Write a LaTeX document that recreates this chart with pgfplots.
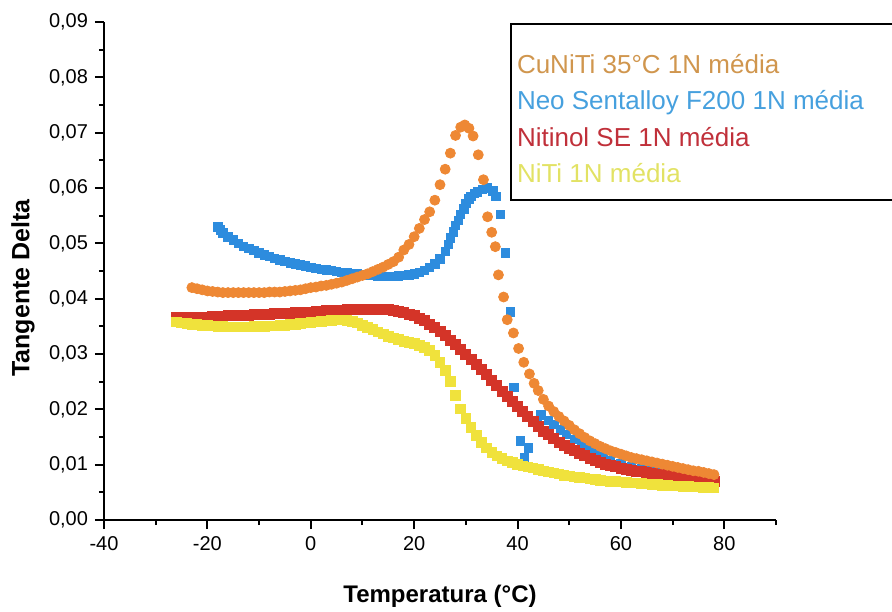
\documentclass[border=0pt]{standalone}
\usepackage{fontspec}
\setmainfont{Liberation Sans}
\usepackage{pgfplots}
\pgfplotsset{compat=1.18}
\definecolor{cOr}{RGB}{238,136,52}
\definecolor{cBl}{RGB}{45,140,222}
\definecolor{cRe}{RGB}{212,52,40}
\definecolor{cYe}{RGB}{240,226,60}
\definecolor{tOr}{RGB}{208,150,78}
\definecolor{tBl}{RGB}{70,160,222}
\definecolor{tRe}{RGB}{192,48,58}
\definecolor{tYe}{RGB}{226,226,100}
\begin{document}
\begin{tikzpicture}
\begin{axis}[
  at={(0,0)}, anchor=south west, scale only axis,
  width=336pt, height=249pt,
  xmin=-40, xmax=90, ymin=0, ymax=0.09,
  axis lines=left, axis line style={-, line width=1pt},
  xtick={-40,-20,0,20,40,60,80},
  minor xtick={-30,-10,10,30,50,70,90},
  ytick={0,0.01,0.02,0.03,0.04,0.05,0.06,0.07,0.08,0.09},
  minor ytick={0.005,0.015,0.025,0.035,0.045,0.055,0.065,0.075,0.085},
  tick align=outside, major tick length=4.5pt, minor tick length=2.5pt,
  every tick/.style={black, line width=1pt},
  scaled y ticks=false,
  yticklabel style={/pgf/number format/.cd, fixed, fixed zerofill, precision=2, use comma},
  /pgf/number format/assume math mode=true,
  tick label style={font=\fontsize{10}{11}\selectfont},
  xlabel={Temperatura (°C)}, ylabel={Tangente Delta},
  xlabel style={font=\bfseries\fontsize{12}{13}\selectfont, at={(axis description cs:0.5,-0.1647)}, anchor=base},
  ylabel style={font=\bfseries\fontsize{12.5}{13}\selectfont, at={(axis description cs:-0.1205,0.466)}, anchor=center, rotate=0},
  clip=false,
]
% Neo Sentalloy F200
\addplot[only marks, mark=square*, mark size=2.1pt, color=cBl] coordinates {
(-18,0.0530)(-17.5,0.0524)(-17,0.0519)(-16,0.0512)(-15,0.0506)(-14,0.0500)(-13,0.0495)(-12,0.0491)(-11,0.0487)(-10,0.0483)(-9,0.0479)(-8,0.0476)(-7,0.0473)(-6,0.0470)(-5,0.0467)(-4,0.0465)(-3,0.0463)(-2,0.0461)(-1,0.0459)(0,0.0457)(1,0.0455)(2,0.0453)(3,0.0452)(4,0.0451)(5,0.0449)(6,0.0448)(7,0.0447)(8,0.0446)(9,0.0445)(10,0.0444)(11,0.0443)(12,0.0442)(13,0.0441)(14,0.0440)(15,0.0440)(16,0.0440)(17,0.0441)(18,0.0442)(19,0.0443)(20,0.0445)(21,0.0447)(22,0.0451)(23,0.0457)(24,0.0463)(25,0.0472)(26,0.0485)(26.6,0.0498)(27,0.0510)(27.6,0.0521)(28,0.0532)(28.6,0.0542)(29,0.0552)(29.6,0.0562)(30,0.0572)(30.6,0.0580)(31,0.0585)(31.6,0.0590)(32.2,0.0593)(33.2,0.0598)(34.2,0.0600)(35.2,0.0595)(35.8,0.0585)(36.7,0.0552)(37.6,0.0483)(38.6,0.0376)(39.3,0.0240)(40.6,0.0143)(41.3,0.0112)(42.1,0.0130)(43.8,0.0177)(44.5,0.0190)(46,0.0180)(47,0.0173)(48.3,0.0163)(49.5,0.0155)(51,0.0146)(52.3,0.0138)(53.5,0.0130)(55,0.0122)(56.5,0.0115)(58,0.0108)(60,0.0102)(62,0.0097)(64,0.0093)(66,0.0090)(68,0.0087)(70,0.0085)(72,0.0082)(74,0.0080)(76,0.0078)(78,0.0076)
};
% Nitinol SE
\addplot[only marks, mark=square*, mark size=2.5pt, color=cRe] coordinates {
(-26,0.0366)(-25,0.0367)(-24,0.0367)(-23,0.0367)(-22,0.0367)(-21,0.0367)(-20,0.0367)(-19,0.0368)(-18,0.0368)(-17,0.0368)(-16,0.0369)(-15,0.0369)(-14,0.0369)(-13,0.0370)(-12,0.0370)(-11,0.0371)(-10,0.0371)(-9,0.0372)(-8,0.0372)(-7,0.0373)(-6,0.0373)(-5,0.0374)(-4,0.0374)(-3,0.0375)(-2,0.0375)(-1,0.0376)(0,0.0376)(1,0.0377)(2,0.0377)(3,0.0378)(4,0.0378)(5,0.0379)(6,0.0379)(7,0.0380)(8,0.0380)(9,0.0381)(10,0.0381)(11,0.0381)(12,0.0381)(13,0.0381)(14,0.0380)(15,0.0380)(16,0.0379)(17,0.0377)(18,0.0375)(19,0.0372)(20,0.0369)(21,0.0365)(22,0.0360)(23,0.0354)(24,0.0348)(25,0.0341)(26,0.0333)(27,0.0325)(28,0.0317)(29,0.0308)(30,0.0299)(31,0.0290)(32,0.0281)(33,0.0272)(34,0.0263)(35,0.0253)(36,0.0243)(37,0.0233)(38,0.0224)(39,0.0215)(40,0.0205)(41,0.0196)(42,0.0187)(43,0.0178)(44,0.0169)(45,0.0161)(46,0.0154)(47,0.0147)(48,0.0141)(49,0.0135)(50,0.0130)(51,0.0125)(52,0.0120)(53,0.0116)(54,0.0112)(55,0.0108)(56,0.0104)(57,0.0101)(58,0.0098)(59,0.0096)(60,0.0094)(61,0.0092)(62,0.0090)(63,0.0088)(64,0.0087)(65,0.0086)(66,0.0084)(67,0.0083)(68,0.0082)(69,0.0081)(70,0.0080)(71,0.0078)(72,0.0077)(73,0.0076)(74,0.0075)(75,0.0074)(76,0.0073)(77,0.0072)(78,0.0070)
};
% CuNiTi 35C
\addplot[only marks, mark=*, mark size=2.5pt, color=cOr] coordinates {
(-23,0.0420)(-22,0.0418)(-21,0.0416)(-20,0.0414)(-19,0.0413)(-18,0.0412)(-17,0.0411)(-16,0.0411)(-15,0.0411)(-14,0.0411)(-13,0.0411)(-12,0.0411)(-11,0.0411)(-10,0.0411)(-9,0.0411)(-8,0.0412)(-7,0.0412)(-6,0.0412)(-5,0.0413)(-4,0.0414)(-3,0.0415)(-2,0.0416)(-1,0.0418)(0,0.0420)(1,0.0421)(2,0.0423)(3,0.0424)(4,0.0426)(5,0.0428)(6,0.0430)(7,0.0433)(8,0.0436)(9,0.0439)(10,0.0442)(11,0.0445)(12,0.0449)(13,0.0453)(14,0.0457)(15,0.0462)(16,0.0467)(17,0.0475)(18,0.0488)(19,0.0498)(20,0.0512)(21,0.0527)(22,0.0543)(23,0.0557)(24,0.0578)(25,0.0606)(26,0.0634)(27,0.0663)(28,0.0695)(29,0.0710)(29.8,0.0714)(30.6,0.0708)(31.4,0.0694)(32.4,0.0660)(33.4,0.0615)(34.2,0.0548)(35,0.0520)(35.7,0.0494)(36.3,0.0443)(37.3,0.0403)(38,0.0362)(39.2,0.0338)(40.2,0.0310)(41.2,0.0285)(42.3,0.0264)(43.2,0.0247)(44,0.0234)(45,0.0218)(46,0.0206)(47,0.0196)(48,0.0187)(49,0.0179)(50,0.0171)(51,0.0163)(52,0.0156)(53,0.0149)(54,0.0143)(55,0.0138)(56,0.0133)(57,0.0129)(58,0.0125)(59,0.0122)(60,0.0119)(61,0.0116)(62,0.0113)(63,0.0111)(64,0.0109)(65,0.0107)(66,0.0105)(67,0.0103)(68,0.0101)(69,0.0099)(70,0.0097)(71,0.0095)(72,0.0093)(73,0.0091)(74,0.0089)(75,0.0088)(76,0.0086)(77,0.0084)(78,0.0082)
};
% NiTi
\addplot[only marks, mark=square*, mark size=2.4pt, color=cYe] coordinates {
(-26,0.0358)(-25,0.0356)(-24,0.0355)(-23,0.0354)(-22,0.0353)(-21,0.0352)(-20,0.0352)(-19,0.0351)(-18,0.0350)(-17,0.0350)(-16,0.0349)(-15,0.0349)(-14,0.0349)(-13,0.0349)(-12,0.0349)(-11,0.0350)(-10,0.0350)(-9,0.0350)(-8,0.0351)(-7,0.0351)(-6,0.0352)(-5,0.0352)(-4,0.0353)(-3,0.0354)(-2,0.0355)(-1,0.0356)(0,0.0357)(1,0.0358)(2,0.0359)(3,0.0360)(4,0.0361)(5,0.0362)(6,0.0362)(7,0.0361)(8,0.0359)(9,0.0356)(10,0.0352)(11,0.0348)(12,0.0344)(13,0.0340)(14,0.0336)(15,0.0332)(16,0.0329)(17,0.0326)(18,0.0323)(19,0.0321)(20,0.0319)(21,0.0316)(22,0.0312)(23,0.0306)(24,0.0298)(25,0.0285)(26,0.0270)(27,0.0250)(28,0.0225)(29,0.0201)(30,0.0184)(31,0.0167)(32,0.0153)(33,0.0140)(34,0.0130)(35,0.0122)(36,0.0116)(37,0.0111)(38,0.0107)(39,0.0104)(40,0.0101)(41,0.0098)(42,0.0096)(43,0.0094)(44,0.0091)(45,0.0089)(46,0.0087)(47,0.0085)(48,0.0083)(49,0.0081)(50,0.0080)(51,0.0078)(52,0.0077)(53,0.0076)(54,0.0074)(55,0.0073)(56,0.0072)(57,0.0071)(58,0.0070)(59,0.0070)(60,0.0069)(61,0.0068)(62,0.0067)(63,0.0067)(64,0.0066)(65,0.0065)(66,0.0064)(67,0.0064)(68,0.0063)(69,0.0063)(70,0.0062)(71,0.0062)(72,0.0061)(73,0.0061)(74,0.0060)(75,0.0060)(76,0.0059)(77,0.0059)(78,0.0058)
};
\end{axis}
\draw[line width=0.8pt] (203.5pt,160pt) rectangle (400pt,248pt);
\begin{scope}[every node/.style={anchor=base west, inner sep=0pt, font=\fontsize{13}{14}\selectfont}]
\node[text=tOr] at (206.3pt,223pt) {CuNiTi 35°C 1N média};
\node[text=tBl] at (206.3pt,205pt) {Neo Sentalloy F200 1N média};
\node[text=tRe] at (206.3pt,186.5pt) {Nitinol SE 1N média};
\node[text=tYe] at (206.3pt,168.5pt) {NiTi 1N média};
\end{scope}
\pgfresetboundingbox
\path (-52pt,-45.5pt) rectangle (394pt,260pt);
\end{tikzpicture}
\end{document}
